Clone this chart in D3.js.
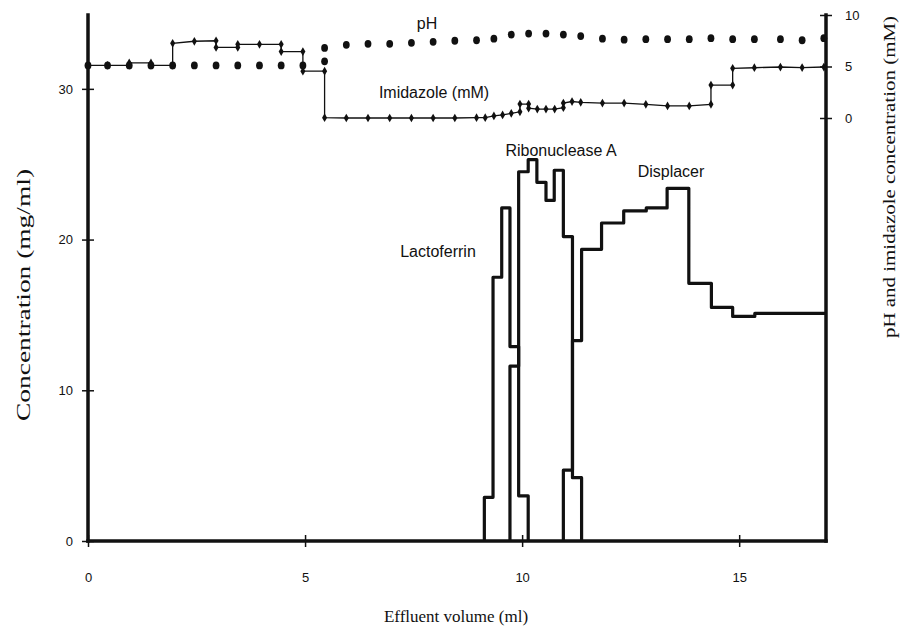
<!DOCTYPE html>
<html><head><meta charset="utf-8">
<script src="https://cdn.jsdelivr.net/npm/d3@7"></script>
<style>body{margin:0;background:#fff}</style>
</head><body>
<svg id="chart" width="903" height="631"></svg>
<script>
// ---- data ----
const xTicks = [0, 5, 10, 15];
const yLeftTicks = [0, 10, 20, 30];
const yRightTicks = [0, 5, 10];

// step histograms (bin edges in ml, values in mg/ml)
const lactoEdges = [9.13, 9.33, 9.53, 9.72, 9.92, 10.14];
const lactoVals  = [2.9, 17.5, 22.1, 12.9, 3.0];
const riboEdges  = [9.72, 9.92, 10.14, 10.34, 10.55, 10.74, 10.95, 11.16, 11.37];
const riboVals   = [11.6, 24.5, 25.3, 23.8, 22.6, 24.6, 20.2, 4.2];
const dispEdges  = [10.95, 11.16, 11.37, 11.83, 12.34, 12.86, 13.34, 13.84, 14.36, 14.85, 15.36, 17];
const dispVals   = [4.7, 13.3, 19.35, 21.1, 21.9, 22.1, 23.4, 17.1, 15.5, 14.9, 15.1];

// pH (dots)
const pHVol  = [0, 0.45, 0.95, 1.45, 1.95, 2.45, 2.95, 3.45, 3.95, 4.45, 4.95, 5.45, 5.45, 5.95, 6.45, 6.95, 7.45, 7.95, 8.45, 8.95, 9.35, 9.75, 10.15, 10.55, 10.95, 11.35, 11.85, 12.35, 12.85, 13.35, 13.85, 14.35, 14.85, 15.35, 15.95, 16.45, 16.95];
const pHVals = [5.1, 5.1, 5.1, 5.1, 5.1, 5.1, 5.1, 5.1, 5.1, 5.1, 5.1, 5.5, 6.8, 7.1, 7.2, 7.2, 7.3, 7.4, 7.5, 7.55, 7.7, 8.1, 8.2, 8.2, 8.1, 7.95, 7.7, 7.6, 7.65, 7.65, 7.65, 7.75, 7.65, 7.65, 7.65, 7.55, 7.75];

// imidazole (mM), line with small diamonds
const imVol  = [0, 0.45, 0.95, 0.95, 1.45, 1.45, 1.95, 1.95, 2.45, 2.95, 2.95, 3.45, 3.45, 3.95, 4.45, 4.45, 4.95, 4.95, 5.45, 5.45, 5.95, 6.45, 6.95, 7.45, 7.95, 8.45, 8.95, 9.15, 9.35, 9.55, 9.75, 9.95, 9.95, 10.15, 10.15, 10.35, 10.55, 10.75, 10.95, 10.95, 11.15, 11.35, 11.85, 12.35, 12.85, 13.35, 13.85, 14.35, 14.35, 14.85, 14.85, 15.35, 15.95, 16.45, 16.95];
const imVals = [5.1, 5.1, 5.1, 5.35, 5.35, 5.1, 5.1, 7.25, 7.45, 7.5, 6.85, 6.85, 7.15, 7.15, 7.15, 6.45, 6.45, 4.55, 4.55, 0.03, 0, 0, 0, 0, 0, 0, 0.03, 0.03, 0.2, 0.3, 0.45, 0.6, 1.35, 1.35, 0.95, 0.87, 0.87, 0.87, 1.0, 1.45, 1.6, 1.52, 1.45, 1.45, 1.33, 1.17, 1.17, 1.33, 3.2, 3.2, 4.82, 4.88, 4.95, 4.9, 4.95];

// ---- chart ----
const svg = d3.select("#chart");
const x  = d3.scaleLinear().domain([0, 17]).range([88, 826]);
const y  = d3.scaleLinear().domain([0, 34.9]).range([541, 15]);
const yR = d3.scaleLinear().domain([0, 10]).range([118, 15]);
const ink = "#111";

function histPoints(edges, vals, dropEnd) {
  const pts = [[edges[0], 0]];
  vals.forEach((v, i) => pts.push([edges[i], v]));
  pts.push([edges[edges.length - 1], dropEnd ? 0 : vals[vals.length - 1]]);
  return pts;
}
const stepLine = d3.line().x(d => x(d[0])).y(d => y(d[1])).curve(d3.curveStepAfter);
[[lactoEdges, lactoVals, true], [riboEdges, riboVals, true], [dispEdges, dispVals, false]].forEach(([e, v, d]) => {
  svg.append("path").attr("d", stepLine(histPoints(e, v, d)))
    .attr("fill", "none").attr("stroke", ink).attr("stroke-width", 3.2).attr("stroke-linejoin", "round");
});

// imidazole line
const imPts = imVol.map((v, i) => [v, imVals[i]]);
svg.append("path")
  .attr("d", d3.line().x(d => x(d[0])).y(d => yR(d[1]))(imPts))
  .attr("fill", "none").attr("stroke", ink).attr("stroke-width", 1.3);
svg.append("g").selectAll("path").data(imPts).join("path")
  .attr("transform", d => `translate(${x(d[0])},${yR(d[1])})`)
  .attr("d", d3.symbol(d3.symbolDiamond, 22))
  .attr("fill", ink);

// pH dots
svg.append("g").selectAll("ellipse").data(pHVol.map((v, i) => [v, pHVals[i]])).join("ellipse")
  .attr("cx", d => x(d[0])).attr("cy", d => yR(d[1]))
  .attr("rx", 3.4).attr("ry", 3.9).attr("fill", ink);

// axes
const tickFont = "Liberation Sans, Arial, sans-serif";
const gL = svg.append("g").attr("transform", `translate(${x(0)},0)`)
  .call(d3.axisLeft(y).tickValues(yLeftTicks).tickSize(6).tickPadding(9));
const gR = svg.append("g").attr("transform", `translate(${x(17)},0)`)
  .call(d3.axisRight(yR).tickValues(yRightTicks).tickSize(6).tickPadding(13));
const gB = svg.append("g").attr("transform", `translate(0,${y(0)})`)
  .call(d3.axisBottom(x).tickValues(xTicks).tickSize(6).tickPadding(26));
[gL, gR, gB].forEach(g => {
  g.select(".domain").remove();
  g.selectAll("text").attr("font-family", tickFont).attr("font-size", 13).attr("fill", ink);
  g.selectAll(".tick line").attr("stroke", ink).attr("stroke-width", 1.5);
});
gL.selectAll(".tick line").attr("x1", -6).attr("x2", 6);
gR.selectAll(".tick line").attr("x1", -6).attr("x2", 6);
gB.selectAll(".tick line").attr("y1", -6).attr("y2", 6);

// thick axis lines
const axLine = (x1, y1, x2, y2) => svg.append("line").attr("x1", x1).attr("y1", y1).attr("x2", x2).attr("y2", y2)
  .attr("stroke", ink).attr("stroke-width", 3.5).attr("stroke-linecap", "square");
axLine(x(0), y.range()[1], x(0), y(0));
axLine(x(17), yR(10), x(17), y(0));
axLine(x(0), y(0), x(17), y(0));

// axis titles
const serif = "Liberation Serif, Times New Roman, serif";
svg.append("text").text("Effluent volume (ml)")
  .attr("x", 456).attr("y", 622).attr("text-anchor", "middle")
  .attr("font-family", serif).attr("font-size", 17).attr("fill", ink);
svg.append("text").text("Concentration (mg/ml)")
  .attr("transform", "translate(24,295) rotate(-90)").attr("text-anchor", "middle")
  .attr("dominant-baseline", "central")
  .attr("textLength", 252).attr("lengthAdjust", "spacingAndGlyphs")
  .attr("font-family", serif).attr("font-size", 18).attr("fill", ink);
svg.append("text").text("pH and imidazole concentration (mM)")
  .attr("transform", "translate(889,177) rotate(-90)").attr("text-anchor", "middle")
  .attr("dominant-baseline", "central")
  .attr("textLength", 322).attr("lengthAdjust", "spacingAndGlyphs")
  .attr("font-family", serif).attr("font-size", 17).attr("fill", ink);

// series labels
const lab = (t, cx, cy) => svg.append("text").text(t).attr("x", cx).attr("y", cy)
  .attr("text-anchor", "middle").attr("dominant-baseline", "central")
  .attr("font-family", tickFont).attr("font-size", 16).attr("fill", ink);
lab("pH", 427, 23);
lab("Imidazole (mM)", 434, 92);
lab("Ribonuclease A", 561, 150);
lab("Displacer", 671, 171);
lab("Lactoferrin", 438, 251);
</script>
</body></html>
